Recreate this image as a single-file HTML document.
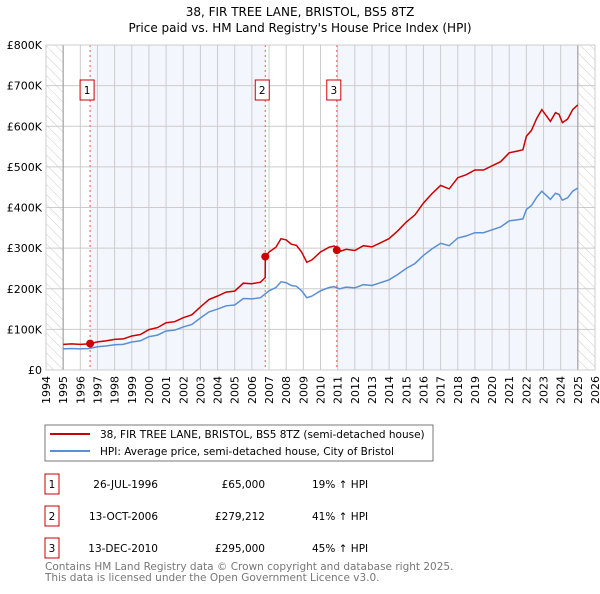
<!DOCTYPE html>
<html><head><meta charset="utf-8"><style>
body{margin:0;background:#fff;font-family:"DejaVu Sans","Liberation Sans",sans-serif;}
svg text{font-family:"DejaVu Sans","Liberation Sans",sans-serif;}
</style></head><body>
<svg id="c" width="600" height="590" viewBox="0 0 600 590" xmlns="http://www.w3.org/2000/svg">
<defs><pattern id="hatch" width="7" height="7" patternUnits="userSpaceOnUse" patternTransform="rotate(-45)"><line x1="0" y1="0" x2="0" y2="7" stroke="#ccc" stroke-width="1"/></pattern></defs>
<text x="300" y="16" text-anchor="middle" font-size="12">38, FIR TREE LANE, BRISTOL, BS5 8TZ</text>
<text x="300" y="32" text-anchor="middle" font-size="12">Price paid vs. HM Land Registry's House Price Index (HPI)</text>
<g id="plot"></g>
<g>
<rect x="45" y="425" width="388" height="36" fill="#fff" stroke="#777"/>
<line x1="50" y1="434" x2="90" y2="434" stroke="#cc0000" stroke-width="2"/>
<text x="100" y="438" font-size="10.5">38, FIR TREE LANE, BRISTOL, BS5 8TZ (semi-detached house)</text>
<line x1="50" y1="451" x2="90" y2="451" stroke="#5b8fd4" stroke-width="2"/>
<text x="100" y="455" font-size="10.5">HPI: Average price, semi-detached house, City of Bristol</text>
</g>
<g id="table" font-size="10.5"></g>
<text x="45" y="570" font-size="10.5" fill="#777">Contains HM Land Registry data © Crown copyright and database right 2025.</text>
<text x="45" y="581" font-size="10.5" fill="#777">This data is licensed under the Open Government Licence v3.0.</text>
</svg>
<script>
const yearTicks=[1994,1995,1996,1997,1998,1999,2000,2001,2002,2003,2004,2005,2006,2007,2008,2009,2010,2011,2012,2013,2014,2015,2016,2017,2018,2019,2020,2021,2022,2023,2024,2025,2026];
const valueTicks=[0,100000,200000,300000,400000,500000,600000,700000,800000];
const valueTickLabels=["£0","£100K","£200K","£300K","£400K","£500K","£600K","£700K","£800K"];
const hpiDates=[1995,1995.5,1996,1996.5,1997,1997.5,1998,1998.5,1999,1999.5,2000,2000.5,2001,2001.5,2002,2002.5,2003,2003.5,2004,2004.5,2005,2005.5,2006,2006.5,2007,2007.4,2007.7,2008,2008.3,2008.6,2008.9,2009.2,2009.5,2010,2010.5,2010.8,2011.1,2011.5,2012,2012.5,2013,2013.5,2014,2014.5,2015,2015.5,2016,2016.5,2017,2017.5,2018,2018.5,2019,2019.5,2020,2020.5,2021,2021.5,2021.8,2022,2022.3,2022.6,2022.9,2023.2,2023.4,2023.7,2023.9,2024.1,2024.4,2024.7,2025];
const hpiValues=[52000,53000,52000,53000,57000,59000,62000,63000,69000,72000,82000,86000,96000,98000,106000,112000,128000,143000,150000,158000,160000,176000,175000,178000,195000,203000,217000,215000,208000,206000,195000,178000,182000,195000,203000,205000,200000,204000,202000,210000,208000,215000,222000,235000,250000,262000,282000,298000,312000,306000,325000,330000,338000,338000,345000,352000,367000,370000,372000,395000,405000,425000,440000,428000,420000,435000,432000,418000,424000,440000,448000];
const saleDates=[1996.57,2006.78,2010.95];
const salePrices=[65000,279212,295000];
const saleLabels=["1","2","3"];
const saleDateText=["26-JUL-1996","13-OCT-2006","13-DEC-2010"];
const salePriceText=["£65,000","£279,212","£295,000"];
const saleHpiText=["19% ↑ HPI","41% ↑ HPI","45% ↑ HPI"];

const X0=46,X1=595,Y0=370,Y1=45;
const xs=d=>X0+(d-1994)/(2026-1994)*(X1-X0);
const ys=v=>Y0-v/800000*(Y0-Y1);
const NS="http://www.w3.org/2000/svg";
const plot=document.getElementById('plot');
function mk(tag,attrs,parent){const e=document.createElementNS(NS,tag);for(const k in attrs)e.setAttribute(k,attrs[k]);(parent||plot).appendChild(e);return e;}
function hpiAt(d){for(let i=0;i<hpiDates.length-1;i++){if(d<=hpiDates[i+1]){const t=(d-hpiDates[i])/(hpiDates[i+1]-hpiDates[i]);return hpiValues[i]+t*(hpiValues[i+1]-hpiValues[i]);}}return hpiValues[hpiValues.length-1];}

let e;
e=mk('rect',{x:X0,y:Y1,width:X1-X0,height:Y0-Y1,fill:'#fff'});

for(let i=0;i<saleDates.length;i++){
  const end=i===0?saleDates[1]:(i===1?null:2025);
  if(end===null)continue;
  e=mk('rect',{x:xs(saleDates[i]),y:Y1,width:xs(end)-xs(saleDates[i]),height:Y0-Y1,fill:'#f3f6fd'});
  
}
e=mk('rect',{x:X0,y:Y1,width:xs(1995)-X0,height:Y0-Y1,fill:'url(#hatch)'});

e=mk('rect',{x:xs(2025),y:Y1,width:X1-xs(2025),height:Y0-Y1,fill:'url(#hatch)'});

yearTicks.forEach(y=>{
  e=mk('line',{x1:xs(y),x2:xs(y),y1:Y1,y2:Y0,stroke:'#ccc','stroke-width':1});
  
  e=mk('text',{x:0,y:0,'font-size':11,'text-anchor':'end',transform:`translate(${xs(y)+4},${Y0+6}) rotate(-90)`});
  e.textContent=y;
  
});
valueTicks.forEach((v,i)=>{
  e=mk('line',{x1:X0,x2:X1,y1:ys(v),y2:ys(v),stroke:'#ccc','stroke-width':1});
  
  e=mk('text',{x:X0-4,y:ys(v)+4,'font-size':11,'text-anchor':'end'});
  e.textContent=valueTickLabels[i];
  
});
e=mk('line',{x1:xs(1995),x2:xs(1995),y1:Y1,y2:Y0,stroke:'#999','stroke-width':1});

e=mk('line',{x1:xs(2025),x2:xs(2025),y1:Y1,y2:Y0,stroke:'#999','stroke-width':1});

saleDates.forEach((d,i)=>{
  e=mk('line',{x1:xs(d),x2:xs(d),y1:Y1,y2:Y0,stroke:'#e55','stroke-width':1,'stroke-dasharray':'2,3'});
  
  const bx=xs(d)+4-14;
  e=mk('rect',{x:bx,y:Y1+35,width:14,height:20,fill:'#fff',stroke:'#c00'});
  
  e=mk('text',{x:bx+7,y:Y1+49,'font-size':10.5,'text-anchor':'middle'});
  e.textContent=saleLabels[i];
  
});
let p=hpiDates.map((d,i)=>xs(d).toFixed(1)+','+ys(hpiValues[i]).toFixed(1)).join(' ');
e=mk('polyline',{points:p,fill:'none',stroke:'#5b8fd4','stroke-width':1.5});

const pts=[];
const ratio=d=>{let k=0;for(let i=0;i<saleDates.length;i++)if(d>=saleDates[i])k=i;return salePrices[k]/hpiAt(saleDates[k]);};
const dates=hpiDates.concat(saleDates).concat(saleDates.map(d=>d-0.001)).sort((a,b)=>a-b);
dates.forEach(d=>{pts.push(xs(d).toFixed(1)+','+ys(hpiAt(d)*ratio(d)).toFixed(1));});
e=mk('polyline',{points:pts.join(' '),fill:'none',stroke:'#cc0000','stroke-width':1.5});

saleDates.forEach((d,i)=>{
  e=mk('circle',{cx:xs(d),cy:ys(salePrices[i]),r:4,fill:'#cc0000'});
  
});
e=mk('rect',{x:X0,y:Y1,width:X1-X0,height:Y0-Y1,fill:'none',stroke:'#ccc'});

const tb=document.getElementById('table');
saleDates.forEach((d,i)=>{
  const y=482+i*32;
  e=mk('rect',{x:45,y:y-8,width:14,height:20,fill:'#fff',stroke:'#c00'},tb);
  
  e=mk('text',{x:52,y:y+6,'text-anchor':'middle'},tb);e.textContent=saleLabels[i];
  
  e=mk('text',{x:158,y:y+6,'text-anchor':'end'},tb);e.textContent=saleDateText[i];
  
  e=mk('text',{x:265,y:y+6,'text-anchor':'end'},tb);e.textContent=salePriceText[i];
  
  e=mk('text',{x:312,y:y+6},tb);e.textContent=saleHpiText[i];
  
});
</script>
</body></html>
